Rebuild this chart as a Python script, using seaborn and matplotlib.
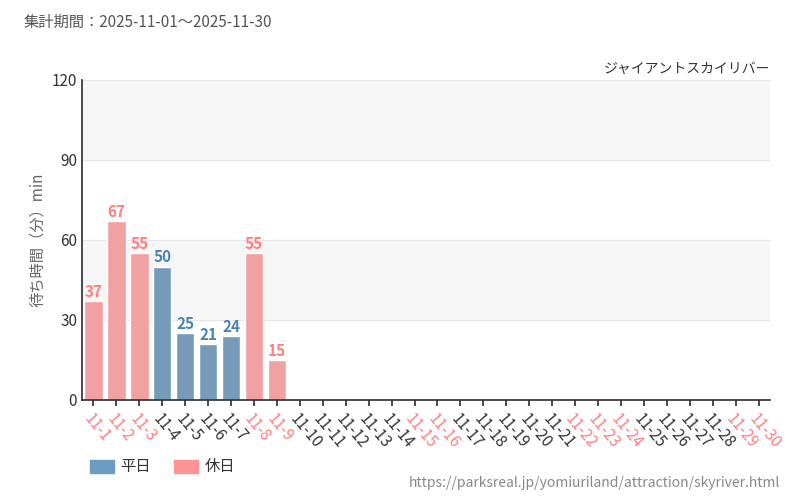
import matplotlib
matplotlib.use("Agg")
import matplotlib.pyplot as plt
import seaborn as sns
import pandas as pd
import numpy as np

sns.set_theme(style="white")
plt.rcParams['font.family'] = ['Noto Sans CJK JP', 'DejaVu Sans']

days = [f"11-{i}" for i in range(1, 31)]
values = [37, 67, 55, 50, 25, 21, 24, 55, 15] + [np.nan] * 21
holidays = {1, 2, 3, 8, 9, 15, 16, 22, 23, 24, 29, 30}
kind = ["休日" if i in holidays else "平日" for i in range(1, 31)]
C_WD, C_HD = "#6a9cc4", "#ff9393"
LBL_WD, LBL_HD = "#4a82b4", "#ff7f7f"

df = pd.DataFrame({"day": days, "value": values, "kind": kind})

fig = plt.figure(figsize=(8, 5), dpi=100)
ax = fig.add_axes([0.1025, 0.2, 0.86, 0.64])
for lo in (30, 90):
    ax.axhspan(lo, lo + 30, color="#f6f6f6", zorder=0)
sns.barplot(data=df, x="day", y="value", hue="kind", hue_order=["平日", "休日"],
            palette={"平日": C_WD, "休日": C_HD}, dodge=False, width=0.8, ax=ax,
            legend=False, zorder=2)
ax.set_ylim(0, 120)
ax.set_xlim(-0.5, 29.5)
ax.set_yticks([0, 30, 60, 90, 120])
ax.tick_params(axis='y', labelsize=11, colors="#333333", length=0)
ax.grid(axis='y', color="#e6e6e6", lw=0.8, zorder=1)
ax.set_axisbelow(True)
for s in ("top", "right"):
    ax.spines[s].set_visible(False)
ax.spines["left"].set_color("#333333")
ax.spines["bottom"].set_color("#333333")
ax.tick_params(axis='x', length=4, color="#333333", bottom=True)
ax.set_xticks(range(30))
ax.set_xticklabels(days, rotation=-50, ha="left", va="top",
                   rotation_mode="anchor", fontsize=11)
for lab, k in zip(ax.get_xticklabels(), kind):
    lab.set_color(LBL_HD if k == "休日" else "#333333")
ax.set_xlabel("")
ax.set_ylabel("待ち時間（分）min", fontsize=11, color="#666666")
for i, (v, k) in enumerate(zip(values, kind)):
    if not np.isnan(v):
        ax.text(i, v + 0.5, f"{int(v)}", ha="center", va="bottom", fontsize=11,
                fontweight="bold", fontstretch="condensed",
                color=LBL_HD if k == "休日" else LBL_WD, zorder=3)

fig.text(0.03, 0.955, "集計期間：2025-11-01～2025-11-30", fontsize=11, color="#555555", va="center")
fig.text(0.963, 0.862, "ジャイアントスカイリバー", fontsize=10, color="#333333", ha="right", va="center")
fig.text(0.975, 0.035, "https://parksreal.jp/yomiuriland/attraction/skyriver.html",
         fontsize=10, color="#888888", ha="right", va="center")
fig.patches.append(plt.Rectangle((0.112, 0.055), 0.03, 0.026, color=C_WD, transform=fig.transFigure))
fig.text(0.15, 0.068, "平日", fontsize=11, color="#333333", va="center")
fig.patches.append(plt.Rectangle((0.218, 0.055), 0.03, 0.026, color=C_HD, transform=fig.transFigure))
fig.text(0.256, 0.068, "休日", fontsize=11, color="#333333", va="center")

fig.savefig("out.png", dpi=100)
